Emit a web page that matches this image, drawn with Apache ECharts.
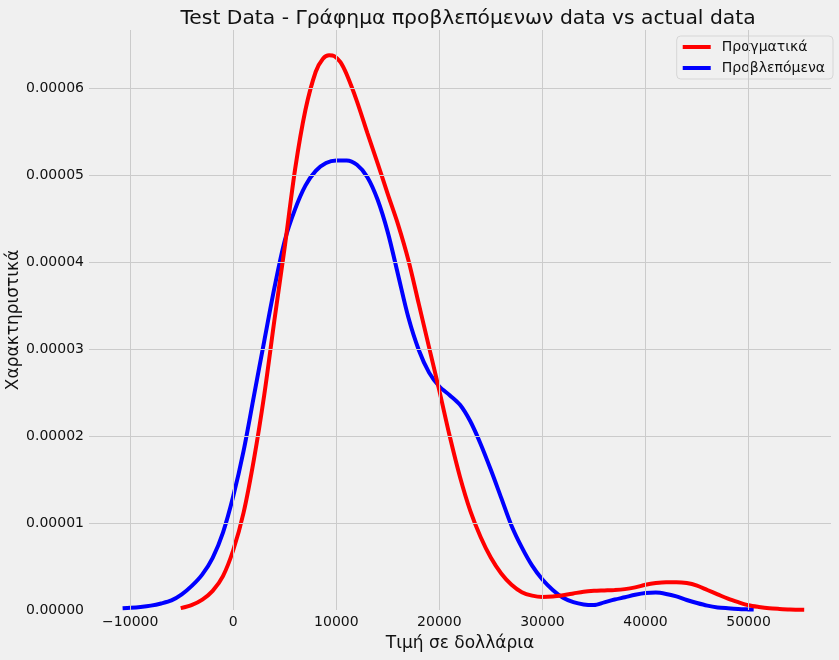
<!DOCTYPE html>
<html>
<head>
<meta charset="utf-8">
<script src="https://cdn.jsdelivr.net/npm/echarts@6/dist/echarts.min.js"></script>
<style>
html,body{margin:0;padding:0;background:#f0f0f0;}
#chart{width:839px;height:660px;}
</style>
</head>
<body>
<div id="chart"></div>
<script>
// Series names
const seriesNames = ['Πραγματικά', 'Προβλεπόμενα'];
// Actual (red) KDE: x in dollars, density
const actualX = [-5100,-4000,-3000,-2000,-1000,0,1000,2000,3000,4000,5000,6000,7000,8000,8700,9300,9800,10400,11000,12000,13000,14000,15000,16000,17000,18000,19000,20000,21000,22000,23000,24000,25000,26000,27000,28000,29000,30000,31000,32000,33000,34000,35000,36000,37000,38000,39000,40000,41000,42000,43000,44000,45000,46000,47000,48000,49000,50000,51000,52000,53000,54000,55400];
const actualY = [0.00000022,0.0000006,0.0000012,0.0000022,0.0000039,0.0000069,0.0000112,0.0000173,0.0000247,0.0000334,0.0000418,0.0000507,0.0000575,0.0000619,0.0000634,0.0000638,0.0000637,0.0000630,0.0000616,0.0000585,0.0000549,0.0000514,0.0000478,0.0000443,0.0000402,0.0000352,0.0000302,0.0000252,0.0000200,0.0000153,0.0000114,0.0000084,0.0000060,0.0000042,0.0000029,0.00000205,0.00000165,0.0000015,0.00000155,0.0000017,0.0000019,0.0000021,0.0000022,0.00000225,0.0000023,0.0000024,0.0000026,0.0000029,0.0000031,0.0000032,0.0000032,0.0000031,0.0000028,0.0000023,0.0000018,0.0000013,0.0000009,0.00000055,0.00000035,0.0000002,0.00000012,0.00000006,0.00000003];
// Predicted (blue) KDE
const predX = [-10740,-10000,-9000,-8000,-7000,-6000,-5000,-4000,-3000,-2000,-1000,0,1000,2000,3000,4000,5000,6000,7000,8000,9000,10000,11000,12000,13000,14000,15000,16000,17000,18000,19000,20000,21000,22000,23000,24000,25000,26000,27000,28000,29000,30000,31000,32000,33000,34000,35000,36000,37000,38000,39000,40000,41000,42000,43000,44000,45000,46000,47000,48000,49000,50000,50500];
const predY = [0.0000002,0.00000025,0.00000035,0.0000005,0.00000075,0.0000011,0.0000018,0.0000028,0.0000041,0.0000060,0.0000089,0.0000131,0.0000183,0.0000246,0.0000309,0.0000371,0.0000425,0.0000461,0.0000488,0.0000505,0.0000514,0.0000517,0.0000517,0.0000512,0.0000498,0.0000472,0.0000434,0.0000385,0.0000336,0.0000299,0.0000273,0.0000257,0.0000247,0.0000236,0.0000217,0.0000191,0.0000161,0.0000129,0.0000097,0.0000072,0.0000051,0.0000035,0.0000023,0.0000014,0.0000009,0.00000064,0.00000058,0.00000088,0.0000012,0.00000147,0.00000175,0.00000195,0.0000020,0.00000185,0.00000156,0.00000115,0.0000008,0.0000005,0.0000003,0.0000002,0.00000012,0.00000007,0.00000005];
// Tick values
const xTicks = [-10000,0,10000,20000,30000,40000,50000];
const yTicks = [0,0.00001,0.00002,0.00003,0.00004,0.00005,0.00006];
const titleText = 'Test Data - Γράφημα προβλεπόμενων data vs actual data';
const xLabel = 'Τιμή σε δολλάρια';
const yLabel = 'Χαρακτηριστικά';

const FONT = 'DejaVu Sans';
const gridColor = '#cbcbcb';
const X_MIN = -14000, X_MAX = 58000, Y_MIN = 0, Y_MAX = 0.0000667;

function isTick(list, v){ return list.some(t => Math.abs(t - v) < 1e-12 || Math.abs(t - v) < 1e-9 * Math.abs(t)); }

const chart = echarts.init(document.getElementById('chart'), null, {renderer:'canvas'});
chart.setOption({
  animation: false,
  backgroundColor: '#f0f0f0',
  textStyle: {fontFamily: FONT},
  title: {
    text: titleText, left: 463, top: 4, textAlign: 'center',
    textStyle: {fontFamily: FONT, fontSize: 20.3, fontWeight: 'normal', color: '#111'}
  },
  legend: {
    data: seriesNames.map(n => ({name: n, icon: 'rect'})),
    orient: 'vertical', right: 6, top: 36,
    itemWidth: 28, itemHeight: 4, itemGap: 7,
    padding: [4, 8, 4, 6],
    backgroundColor: '#f0f0f0', borderColor: '#d6d6d6', borderWidth: 1, borderRadius: 4,
    textStyle: {fontFamily: FONT, fontSize: 14, color: '#111', padding: [0,0,0,6], lineHeight: 14}
  },
  grid: {left: 89, right: 8, top: 30, bottom: 50, containLabel: false, outerBoundsMode: 'none'},
  xAxis: {
    type: 'value', min: X_MIN, max: X_MAX,
    name: xLabel, nameLocation: 'middle', nameGap: 25, nameMoveOverlap: false,
    nameTextStyle: {fontFamily: FONT, fontSize: 17, color: '#111'},
    axisLine: {show: false, onZero: false}, axisTick: {show: false}, splitLine: {show: false},
    axisLabel: {fontFamily: FONT, fontSize: 14, color: '#111', margin: 5,
      formatter: v => isTick(xTicks, v) ? (v < 0 ? '\u2212' + Math.abs(v) : String(v)) : ''}
  },
  yAxis: {
    type: 'value', min: Y_MIN, max: Y_MAX,
    name: yLabel, nameLocation: 'middle', nameGap: 67, nameMoveOverlap: false,
    nameTextStyle: {fontFamily: FONT, fontSize: 17, color: '#111'},
    axisLine: {show: false, onZero: false}, axisTick: {show: false}, splitLine: {show: false},
    axisLabel: {fontFamily: FONT, fontSize: 14, color: '#111', margin: 5,
      formatter: v => isTick(yTicks, v) ? v.toFixed(5) : ''}
  },
  series: [
    {
      type: 'line', name: '__grid', silent: true, z: 1, data: [],
      markLine: {
        silent: true, symbol: 'none', label: {show: false}, precision: 12,
        lineStyle: {color: gridColor, width: 1, type: 'solid'},
        emphasis: {disabled: true},
        data: xTicks.map(v => ({xAxis: v})).concat(yTicks.filter(v => v > 0).map(v => ({yAxis: v})))
      }
    },
    {
      type: 'line', name: seriesNames[0], z: 3,
      data: actualX.map((x, i) => [x, actualY[i]]),
      showSymbol: false, symbol: 'none', smooth: 0.3,
      lineStyle: {color: '#ff0000', width: 4}, itemStyle: {color: '#ff0000'}
    },
    {
      type: 'line', name: seriesNames[1], z: 2,
      data: predX.map((x, i) => [x, predY[i]]),
      showSymbol: false, symbol: 'none', smooth: 0.3,
      lineStyle: {color: '#0000ff', width: 4}, itemStyle: {color: '#0000ff'}
    }
  ]
});
</script>
</body>
</html>
